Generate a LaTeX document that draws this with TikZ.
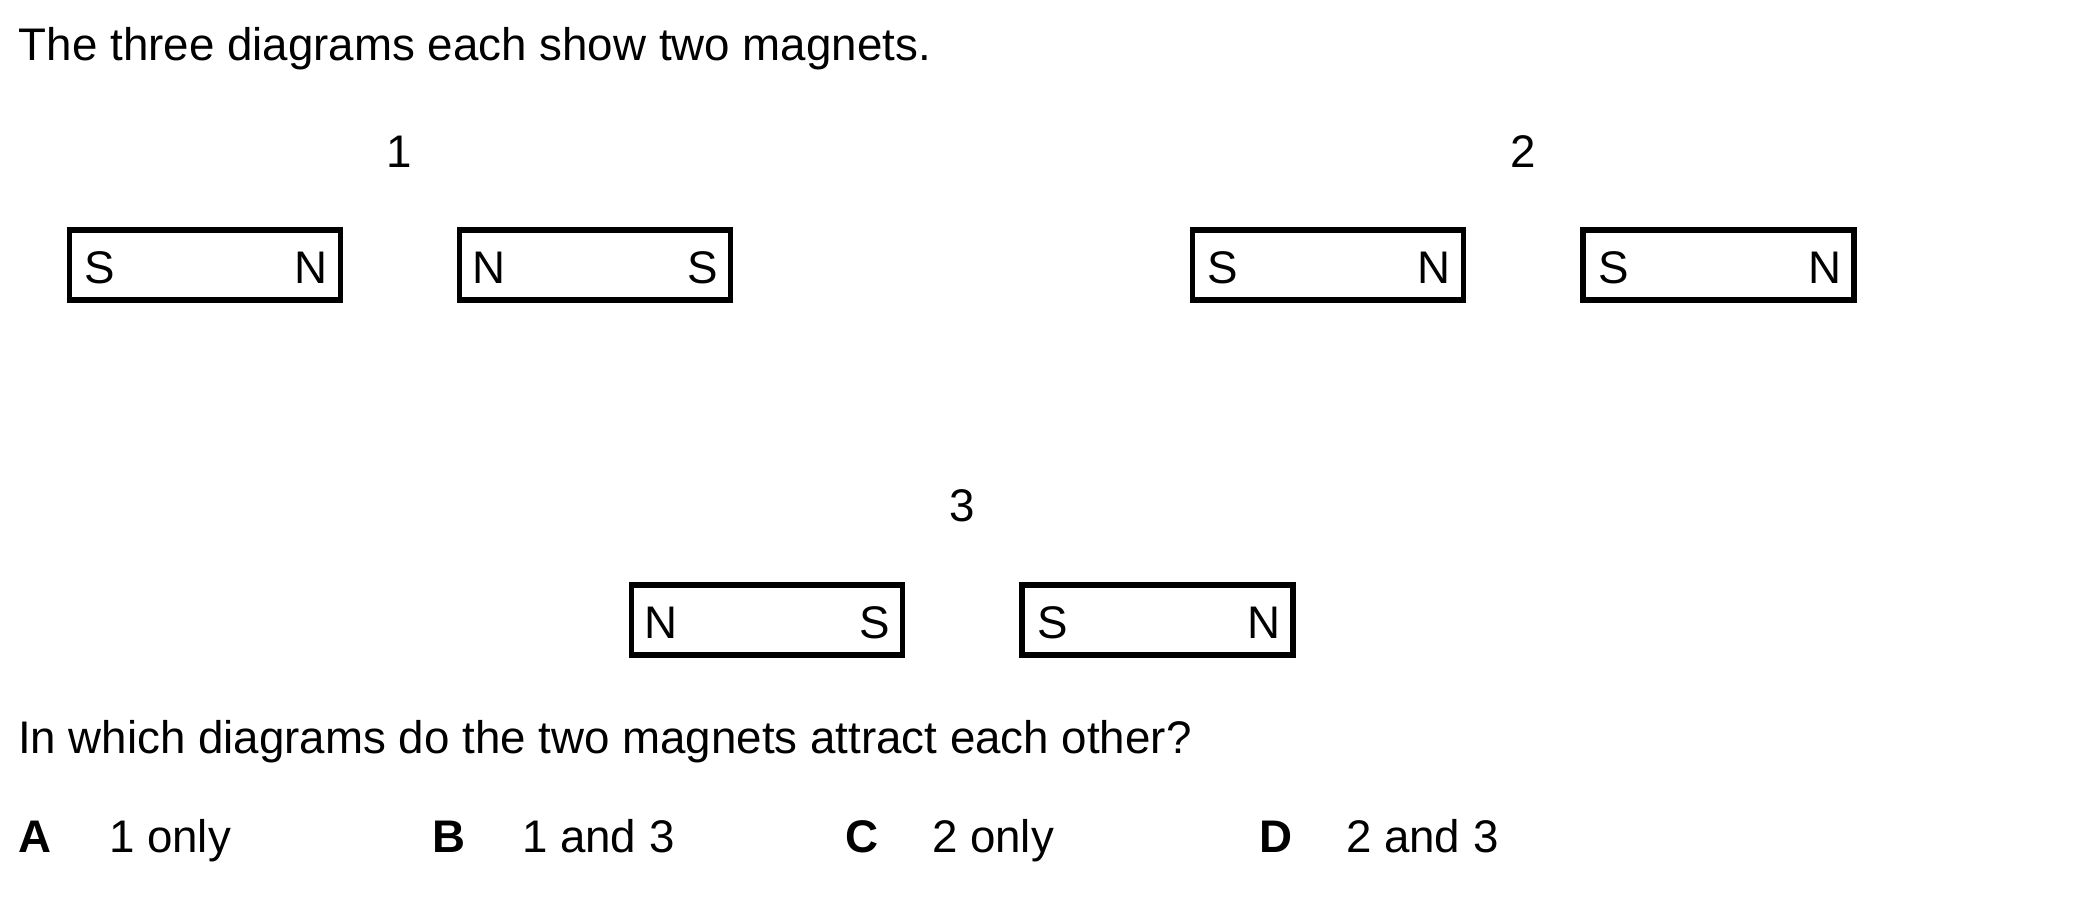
\documentclass[tikz,border=0pt]{standalone}
\usepackage{fontspec}
\setmainfont{Liberation Sans}
\begin{document}
\begin{tikzpicture}[x=1pt,y=-1pt,
  txt/.style={anchor=base west,inner sep=0pt,outer sep=0pt,font=\fontsize{45.7}{55}\selectfont},
  txtc/.style={anchor=base,inner sep=0pt,outer sep=0pt,font=\fontsize{45.7}{55}\selectfont},
  txte/.style={anchor=base east,inner sep=0pt,outer sep=0pt,font=\fontsize{45.7}{55}\selectfont},
  opt/.style={anchor=base west,inner sep=0pt,outer sep=0pt,font=\fontsize{45.7}{55}\selectfont\bfseries},
  magnet/.style={draw=black,line width=5.5pt,minimum width=271pt,minimum height=70pt,inner sep=0pt,outer sep=0pt}]
\useasboundingbox (0,0) rectangle (2099,899);
% title
\node[txt] (title) at (19,60.7) {The three diagrams each show two magnets.};
% diagram numbers
\node[txtc] (n1) at (399.6,167) {1};
\node[txtc] (n2) at (1523,167) {2};
\node[txtc] (n3) at (962,521.7) {3};
% magnets row 1
\node[magnet] (m1a) at (204.75,264.8) {};
\node[magnet] (m1b) at (595,264.8) {};
\node[magnet] (m2a) at (1327.75,264.8) {};
\node[magnet] (m2b) at (1718.5,264.8) {};
% magnets row 3
\node[magnet] (m3a) at (767,620) {};
\node[magnet] (m3b) at (1157.5,620) {};
% pole letters
\node[txt]  (m1aL) at ([xshift=15pt,yshift=-18.5pt]m1a.west) {S};
\node[txte] (m1aR) at ([xshift=-13pt,yshift=-18.5pt]m1a.east) {N};
\node[txt]  (m1bL) at ([xshift=13pt,yshift=-18.5pt]m1b.west) {N};
\node[txte] (m1bR) at ([xshift=-13pt,yshift=-18.5pt]m1b.east) {S};
\node[txt]  (m2aL) at ([xshift=15pt,yshift=-18.5pt]m2a.west) {S};
\node[txte] (m2aR) at ([xshift=-13pt,yshift=-18.5pt]m2a.east) {N};
\node[txt]  (m2bL) at ([xshift=15pt,yshift=-18.5pt]m2b.west) {S};
\node[txte] (m2bR) at ([xshift=-13pt,yshift=-18.5pt]m2b.east) {N};
\node[txt]  (m3aL) at ([xshift=13pt,yshift=-18.5pt]m3a.west) {N};
\node[txte] (m3aR) at ([xshift=-13pt,yshift=-18.5pt]m3a.east) {S};
\node[txt]  (m3bL) at ([xshift=15pt,yshift=-18.5pt]m3b.west) {S};
\node[txte] (m3bR) at ([xshift=-13pt,yshift=-18.5pt]m3b.east) {N};
% question
\node[txt] (q) at (18,753) {In which diagrams do the two magnets attract each other?};
% options
\node[opt] (oA) at (18,852) {A};
\node[txt] (tA) at (109,852) {1 only};
\node[opt] (oB) at (432,852) {B};
\node[txt] (tB) at (522,852) {1 and 3};
\node[opt] (oC) at (845,852) {C};
\node[txt] (tC) at (932,852) {2 only};
\node[opt] (oD) at (1259,852) {D};
\node[txt] (tD) at (1346,852) {2 and 3};
\end{tikzpicture}
\end{document}
